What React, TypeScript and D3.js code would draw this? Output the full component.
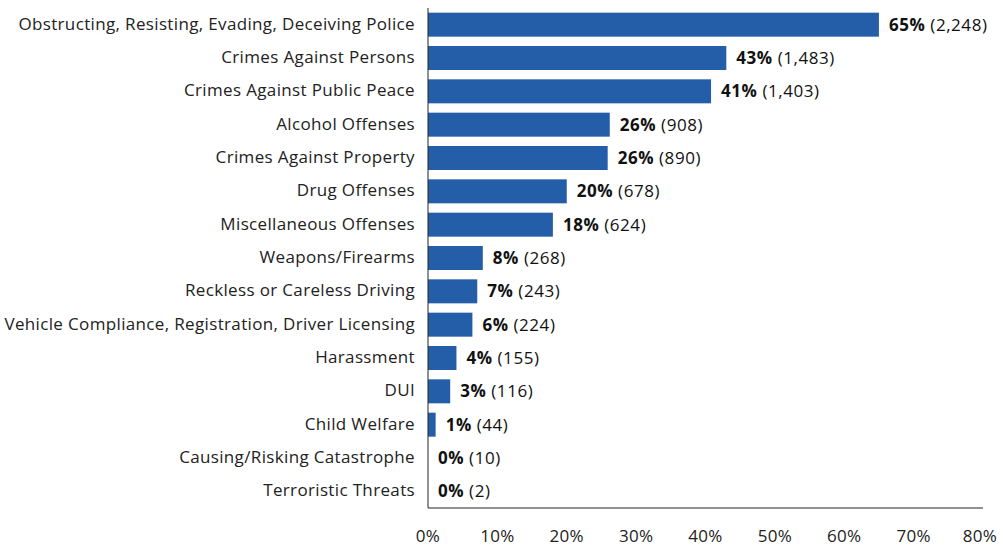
import React from "react";
import * as d3 from "d3";

const categories = [
  "Obstructing, Resisting, Evading, Deceiving Police",
  "Crimes Against Persons",
  "Crimes Against Public Peace",
  "Alcohol Offenses",
  "Crimes Against Property",
  "Drug Offenses",
  "Miscellaneous Offenses",
  "Weapons/Firearms",
  "Reckless or Careless Driving",
  "Vehicle Compliance, Registration, Driver Licensing",
  "Harassment",
  "DUI",
  "Child Welfare",
  "Causing/Risking Catastrophe",
  "Terroristic Threats",
];
const barValues = [65, 43, 40.8, 26.2, 25.9, 20, 18, 7.9, 7.1, 6.4, 4.1, 3.2, 1.1, 0, 0];
const pctLabels = ["65%", "43%", "41%", "26%", "26%", "20%", "18%", "8%", "7%", "6%", "4%", "3%", "1%", "0%", "0%"];
const countLabels = ["2,248", "1,483", "1,403", "908", "890", "678", "624", "268", "243", "224", "155", "116", "44", "10", "2"];
const xTicks = [0, 10, 20, 30, 40, 50, 60, 70, 80];

const W = 1003;
const H = 547;
const FONT = "'Open Sans', sans-serif";

export default function App() {
  const x = d3.scaleLinear().domain([0, 80]).range([428, 983]);
  const y = d3
    .scaleBand<string>()
    .domain(categories)
    .range([8, 508])
    .paddingInner(0.28)
    .paddingOuter(0.14);
  const bh = y.bandwidth();
  return (
    <svg
      width={W}
      height={H}
      style={{ position: "absolute", left: 0, top: 0, background: "#fff" }}
      fontFamily={FONT}
    >
      {categories.map((c, i) => {
        const cy = (y(c) as number) + bh / 2;
        return (
          <g key={c}>
            <rect x={x(0)} y={y(c)} width={x(barValues[i]) - x(0)} height={bh} fill="#255EA8" />
            <text x={415} y={cy - 1} dy="0.35em" textAnchor="end" fontSize={17} letterSpacing={0.35} fill="#222">
              {c}
            </text>
            <text x={x(barValues[i]) + 10} y={cy} dy="0.35em" fontSize={17} letterSpacing={0.55} fill="#111">
              <tspan fontWeight={700}>{pctLabels[i]}</tspan>
              <tspan> ({countLabels[i]})</tspan>
            </text>
          </g>
        );
      })}
      <line x1={x(0)} x2={x(0)} y1={8} y2={508} stroke="#222" strokeWidth={1} />
      <line x1={x(0)} x2={x(80)} y1={508} y2={508} stroke="#222" strokeWidth={1} />
      {xTicks.map((t) => (
        <text key={t} x={Math.min(x(t), 980)} y={536} dy="0.35em" textAnchor="middle" fontSize={17} letterSpacing={0.3} fill="#222">
          {t}%
        </text>
      ))}
    </svg>
  );
}
